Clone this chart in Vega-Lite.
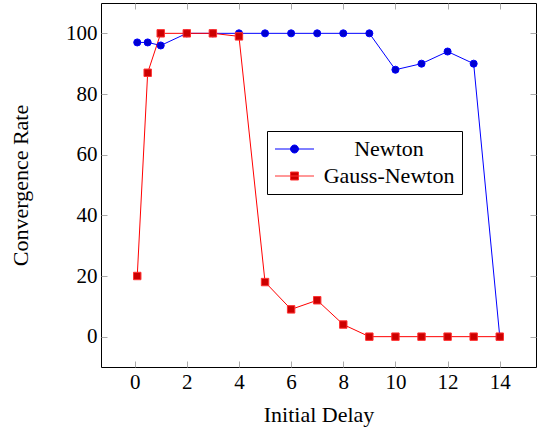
{
  "$schema": "https://vega.github.io/schema/vega-lite/v6.json",
  "width": 435,
  "height": 364,
  "autosize": {"type": "none"},
  "padding": {"left": 101, "top": 3, "right": 1, "bottom": 62},
  "config": {
    "view": {"stroke": "#000000", "strokeWidth": 1},
    "font": "Liberation Serif",
    "axis": {"labelFont": "Liberation Serif", "titleFont": "Liberation Serif", "labelFontSize": 21, "titleFontSize": 22, "titleFontWeight": "normal", "labelColor": "#000000", "titleColor": "#000000", "grid": false, "domain": false, "tickColor": "#aaaaaa", "tickSize": -6, "tickWidth": 1},
    "legend": {"orient": "none", "legendX": 166, "legendY": 128, "title": null, "strokeColor": "#000000", "fillColor": "#ffffff", "padding": 7, "symbolSize": 400, "symbolStrokeWidth": 1, "labelFont": "Liberation Serif", "labelFontSize": 22, "labelColor": "#000000", "labelAlign": "center", "labelOffset": 93, "rowPadding": 5, "cornerRadius": 0}
  },
  "data": {
    "values": [
      {"x": 0.1, "rate": 97, "method": "Newton"},
      {"x": 0.5, "rate": 97, "method": "Newton"},
      {"x": 1, "rate": 96, "method": "Newton"},
      {"x": 2, "rate": 100, "method": "Newton"},
      {"x": 3, "rate": 100, "method": "Newton"},
      {"x": 4, "rate": 100, "method": "Newton"},
      {"x": 5, "rate": 100, "method": "Newton"},
      {"x": 6, "rate": 100, "method": "Newton"},
      {"x": 7, "rate": 100, "method": "Newton"},
      {"x": 8, "rate": 100, "method": "Newton"},
      {"x": 9, "rate": 100, "method": "Newton"},
      {"x": 10, "rate": 88, "method": "Newton"},
      {"x": 11, "rate": 90, "method": "Newton"},
      {"x": 12, "rate": 94, "method": "Newton"},
      {"x": 13, "rate": 90, "method": "Newton"},
      {"x": 14, "rate": 0, "method": "Newton"},
      {"x": 0.1, "rate": 20, "method": "Gauss-Newton"},
      {"x": 0.5, "rate": 87, "method": "Gauss-Newton"},
      {"x": 1, "rate": 100, "method": "Gauss-Newton"},
      {"x": 2, "rate": 100, "method": "Gauss-Newton"},
      {"x": 3, "rate": 100, "method": "Gauss-Newton"},
      {"x": 4, "rate": 99, "method": "Gauss-Newton"},
      {"x": 5, "rate": 18, "method": "Gauss-Newton"},
      {"x": 6, "rate": 9, "method": "Gauss-Newton"},
      {"x": 7, "rate": 12, "method": "Gauss-Newton"},
      {"x": 8, "rate": 4, "method": "Gauss-Newton"},
      {"x": 9, "rate": 0, "method": "Gauss-Newton"},
      {"x": 10, "rate": 0, "method": "Gauss-Newton"},
      {"x": 11, "rate": 0, "method": "Gauss-Newton"},
      {"x": 12, "rate": 0, "method": "Gauss-Newton"},
      {"x": 13, "rate": 0, "method": "Gauss-Newton"},
      {"x": 14, "rate": 0, "method": "Gauss-Newton"}
    ]
  },
  "resolve": {"axis": {"x": "independent", "y": "independent"}},
  "layer": [
    {
      "transform": [{"filter": "datum.method === 'Newton'"}],
      "mark": {"type": "line", "strokeWidth": 1, "color": "#0000ff"},
      "encoding": {
        "x": {"field": "x", "type": "quantitative", "scale": {"domain": [-1.29, 15.39], "nice": false, "zero": false}, "axis": {"orient": "bottom", "values": [0, 2, 4, 6, 8, 10, 12, 14], "title": "Initial Delay", "labelPadding": 10, "titlePadding": 12}},
        "y": {"field": "rate", "type": "quantitative", "scale": {"domain": [-10, 110], "nice": false, "zero": false}, "axis": {"orient": "left", "values": [0, 20, 40, 60, 80, 100], "title": "Convergence Rate", "labelPadding": 10, "titlePadding": 33}}
      }
    },
    {
      "transform": [{"filter": "datum.method === 'Gauss-Newton'"}],
      "mark": {"type": "line", "strokeWidth": 1, "color": "#ff0000"},
      "encoding": {
        "x": {"field": "x", "type": "quantitative", "axis": null},
        "y": {"field": "rate", "type": "quantitative", "axis": null}
      }
    },
    {
      "transform": [{"filter": "datum.method === 'Newton'"}],
      "mark": {"type": "point", "shape": "circle", "filled": true, "fill": "#0000d0", "stroke": "#0000ff", "strokeWidth": 1, "size": 50, "opacity": 1},
      "encoding": {
        "x": {"field": "x", "type": "quantitative", "axis": {"orient": "top", "values": [0, 2, 4, 6, 8, 10, 12, 14], "labels": false, "title": null}},
        "y": {"field": "rate", "type": "quantitative", "axis": {"orient": "right", "values": [0, 20, 40, 60, 80, 100], "labels": false, "title": null}}
      }
    },
    {
      "transform": [{"filter": "datum.method === 'Gauss-Newton'"}],
      "mark": {"type": "point", "shape": "square", "filled": true, "fill": "#cc0000", "stroke": "#ff3030", "strokeWidth": 1, "size": 55, "opacity": 1},
      "encoding": {
        "x": {"field": "x", "type": "quantitative", "axis": null},
        "y": {"field": "rate", "type": "quantitative", "axis": null}
      }
    },
    {
      "transform": [{"filter": "datum.x > 1000"}],
      "mark": {"type": "point", "filled": false, "opacity": 1},
      "encoding": {
        "x": {"field": "x", "type": "quantitative", "axis": null},
        "y": {"field": "rate", "type": "quantitative", "axis": null},
        "color": {"field": "method", "type": "nominal", "scale": {"domain": ["Newton", "Gauss-Newton"], "range": ["#0000ff", "#ff3030"]}},
        "fill": {"field": "method", "type": "nominal", "scale": {"domain": ["Newton", "Gauss-Newton"], "range": ["#0000d0", "#cc0000"]}},
        "shape": {"field": "method", "type": "nominal", "scale": {"domain": ["Newton", "Gauss-Newton"], "range": ["M-1,0H2.9M1.35,0A0.4,0.4 0 1,1 0.55,0A0.4,0.4 0 1,1 1.35,0Z", "M-1,0H2.9M0.55,-0.4H1.35V0.4H0.55Z"]}}
      }
    }
  ]
}
